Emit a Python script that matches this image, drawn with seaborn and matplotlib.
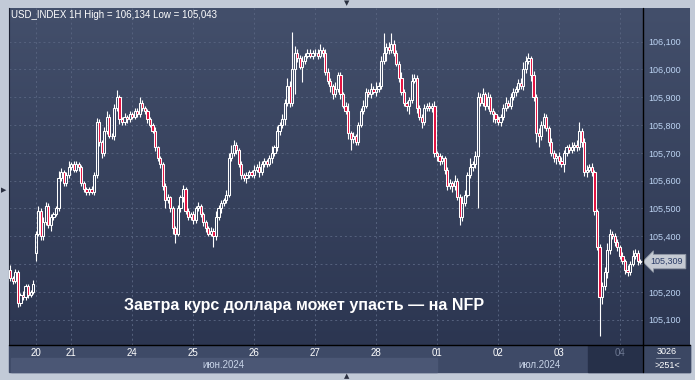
import matplotlib
matplotlib.use("Agg")
import matplotlib.pyplot as plt
import matplotlib.transforms as mtransforms
from matplotlib.colors import LinearSegmentedColormap
from matplotlib.patches import Rectangle
from matplotlib.lines import Line2D
import seaborn as sns
import numpy as np
import pandas as pd

# hourly closes, USD_INDEX 1H, 20.06 - 04.07.2024
closes = [
    105.25, 105.24, 105.27, 105.16, 105.19, 105.18, 105.22, 105.19, 105.20, 105.23,
    105.41, 105.49, 105.40, 105.45, 105.51, 105.44, 105.47, 105.48, 105.50, 105.61,
    105.63, 105.59, 105.62, 105.65, 105.66, 105.64, 105.66, 105.65, 105.59, 105.57,
    105.56, 105.57, 105.56, 105.62, 105.81, 105.74, 105.70, 105.78, 105.83, 105.76,
    105.76, 105.86, 105.90, 105.82, 105.81, 105.83, 105.82, 105.84, 105.83, 105.85,
    105.84, 105.88, 105.86, 105.85, 105.82, 105.80, 105.78, 105.72, 105.68, 105.66,
    105.58, 105.53, 105.54, 105.50, 105.43, 105.41, 105.50, 105.54, 105.57, 105.49,
    105.47, 105.48, 105.46, 105.50, 105.51, 105.48, 105.45, 105.43, 105.41, 105.42,
    105.40, 105.47, 105.50, 105.52, 105.53, 105.55, 105.68, 105.70, 105.73, 105.71,
    105.66, 105.62, 105.61, 105.62, 105.63, 105.62, 105.64, 105.65, 105.63, 105.66,
    105.67, 105.66, 105.68, 105.70, 105.72, 105.78, 105.80, 105.82, 105.88, 105.94,
    105.88, 106.00, 106.06, 106.04, 106.01, 106.03, 106.05, 106.06, 106.05, 106.06,
    106.06, 106.05, 106.07, 106.06, 105.99, 105.96, 105.94, 105.91, 105.93, 105.98,
    105.91, 105.87, 105.85, 105.77, 105.75, 105.76, 105.74, 105.80, 105.85, 105.87,
    105.92, 105.91, 105.93, 105.92, 105.93, 105.94, 106.03, 106.06, 106.08, 106.07,
    106.09, 106.06, 106.02, 105.97, 105.92, 105.88, 105.87, 105.89, 105.96, 105.97,
    105.86, 105.83, 105.81, 105.86, 105.87, 105.86, 105.87, 105.70, 105.69, 105.67,
    105.68, 105.64, 105.58, 105.59, 105.58, 105.60, 105.54, 105.47, 105.52, 105.55,
    105.62, 105.65, 105.66, 105.69, 105.90, 105.88, 105.91, 105.87, 105.90, 105.85,
    105.84, 105.82, 105.81, 105.83, 105.86, 105.88, 105.87, 105.90, 105.92, 105.93,
    105.95, 105.94, 106.00, 106.03, 106.04, 105.98, 105.90, 105.77, 105.76, 105.80,
    105.83, 105.79, 105.74, 105.70, 105.68, 105.69, 105.67, 105.66, 105.70, 105.72,
    105.71, 105.72, 105.73, 105.72, 105.78, 105.74, 105.63, 105.64, 105.65, 105.63,
    105.49, 105.36, 105.18, 105.22, 105.27, 105.35, 105.41, 105.40, 105.38, 105.36,
    105.33, 105.31, 105.28, 105.27, 105.30, 105.33, 105.34, 105.31, 105.309,
]

# wick lengths above / below the body, in 0.001
wick_up = [
    15, 8, 12, 10, 6, 14, 10, 8, 6, 12,
    8, 20, 10, 18, 12, 8, 10, 6, 10, 25,
    15, 10, 12, 20, 8, 10, 12, 6, 8, 10,
    6, 8, 10, 12, 15, 10, 8, 12, 20, 10,
    12, 15, 25, 8, 10, 12, 6, 10, 8, 10,
    12, 20, 10, 8, 6, 10, 8, 12, 6, 10,
    8, 10, 12, 6, 10, 8, 12, 10, 15, 8,
    10, 8, 12, 10, 15, 6, 8, 10, 6, 12,
    10, 20, 12, 10, 8, 15, 20, 30, 18, 10,
    8, 10, 6, 12, 10, 8, 15, 10, 20, 12,
    10, 8, 12, 25, 10, 15, 12, 20, 15, 30,
    20, 134, 25, 15, 12, 20, 10, 12, 15, 10,
    12, 15, 20, 10, 12, 15, 10, 8, 25, 12,
    10, 8, 12, 30, 10, 15, 8, 12, 10, 20,
    15, 10, 20, 12, 25, 15, 20, 70, 15, 20,
    40, 15, 10, 12, 20, 10, 8, 12, 25, 15,
    10, 12, 8, 15, 10, 12, 10, 15, 8, 10,
    12, 10, 8, 15, 10, 20, 10, 12, 25, 15,
    12, 30, 10, 15, 20, 15, 25, 10, 20, 12,
    10, 8, 12, 10, 15, 20, 10, 15, 12, 10,
    15, 20, 25, 20, 20, 10, 15, 12, 20, 15,
    12, 10, 8, 12, 10, 8, 12, 15, 10, 8,
    12, 20, 10, 15, 30, 10, 12, 15, 10, 12,
    10, 8, 12, 15, 20, 25, 15, 10, 12, 10,
    8, 12, 10, 15, 12, 20, 15, 10, 8,
]
wick_dn = [
    10, 12, 8, 15, 12, 10, 8, 12, 10, 8,
    30, 10, 12, 15, 8, 10, 20, 12, 8, 10,
    12, 10, 8, 10, 12, 8, 10, 15, 8, 12,
    10, 12, 8, 10, 12, 15, 20, 10, 12, 8,
    10, 12, 8, 15, 10, 8, 12, 10, 8, 10,
    12, 10, 8, 10, 12, 8, 10, 12, 10, 15,
    12, 30, 10, 12, 20, 35, 10, 12, 15, 10,
    12, 10, 15, 12, 8, 10, 12, 15, 10, 8,
    40, 12, 10, 15, 10, 12, 8, 10, 12, 15,
    10, 15, 12, 20, 10, 8, 12, 10, 15, 8,
    10, 12, 8, 15, 10, 12, 15, 10, 20, 12,
    15, 10, 90, 12, 10, 55, 12, 10, 8, 12,
    10, 12, 8, 15, 10, 12, 20, 15, 10, 12,
    15, 10, 12, 20, 40, 15, 12, 10, 8, 12,
    10, 8, 12, 10, 15, 12, 10, 12, 30, 15,
    12, 10, 8, 15, 12, 10, 20, 30, 12, 10,
    15, 12, 20, 10, 8, 10, 12, 15, 20, 12,
    10, 15, 12, 10, 20, 12, 10, 30, 15, 12,
    10, 12, 15, 15, 190, 12, 10, 15, 12, 10,
    30, 12, 10, 15, 12, 10, 8, 12, 10, 15,
    12, 10, 15, 12, 10, 20, 12, 30, 40, 12,
    10, 12, 15, 10, 12, 20, 10, 12, 30, 10,
    12, 10, 15, 12, 10, 20, 12, 15, 10, 12,
    12, 10, 137, 25, 12, 20, 12, 10, 15, 12,
    12, 10, 15, 12, 10, 8, 12, 15, 10,
]
first_open = 105.28
open_gaps = {10: 105.34}

day_pos = [10, 24, 48, 72, 96, 120, 144, 168, 192, 216, 240]
day_labels = ["20", "21", "24", "25", "26", "27", "28", "01", "02", "03", "04"]
price_ticks = [105.1, 105.2, 105.3, 105.4, 105.5, 105.6, 105.7, 105.8, 105.9, 106.0, 106.1]
month_labels = ["июн.2024", "июл.2024"]
month_pos = [84, 208.5]

df = pd.DataFrame({"close": closes, "up": wick_up, "dn": wick_dn})
df["x"] = np.arange(len(df))
df["open"] = df["close"].shift(1).fillna(first_open)
for k, v in open_gaps.items():
    df.loc[k, "open"] = v
df["top"] = df[["open", "close"]].max(axis=1)
df["bot"] = df[["open", "close"]].min(axis=1)
df["high"] = df["top"] + df["up"] / 1000
df["low"] = df["bot"] - df["dn"] / 1000

sns.set_style("dark")
plt.rcParams["font.family"] = ["Liberation Sans", "DejaVu Sans"]

W, H = 695, 380
fig = plt.figure(figsize=(W / 100, H / 100), dpi=100, facecolor="#c2cad7")


def fx(x):
    return x / W


def fy(y):
    return 1 - y / H


def frect(x0, y0, x1, y1, color):
    fig.patches.append(Rectangle((fx(x0), fy(y1)), fx(x1) - fx(x0), fy(y0) - fy(y1),
                                 transform=fig.transFigure, color=color, zorder=-2))


# bottom date strip
frect(9, 345, 690, 372, "#3e4a67")
frect(11, 358, 437, 372, "#4b5775")
frect(588, 345, 643, 372, "#263049")
frect(643, 345, 690, 372, "#3b4763")

# gradient background for plot + price scale
ax_bg = fig.add_axes([fx(9), fy(345), fx(690) - fx(9), fy(8) - fy(345)])
ax_bg.set_zorder(-1)
cmap = LinearSegmentedColormap.from_list("bg", ["#434f6b", "#2c3651"])
ax_bg.imshow(np.linspace(0, 1, 256).reshape(-1, 1), aspect="auto", cmap=cmap,
             extent=[0, 1, 0, 1])
ax_bg.axis("off")

ax = fig.add_axes([fx(9), fy(345), fx(643) - fx(9), fy(8) - fy(345)])
ax.set_facecolor("none")

# candles
bull = df[df["close"] >= df["open"]]
bear = df[df["close"] < df["open"]]
ax.vlines(df["x"], df["low"], df["bot"], color="white", lw=0.8, zorder=3)
ax.vlines(df["x"], df["top"], df["high"], color="white", lw=0.8, zorder=3)
ax.bar(bull["x"], bull["top"] - bull["bot"], bottom=bull["bot"], width=0.85,
       facecolor="none", edgecolor="white", linewidth=0.75, zorder=4)
ax.bar(bear["x"], bear["top"] - bear["bot"], bottom=bear["bot"], width=0.85,
       facecolor="#e3103f", edgecolor="white", linewidth=0.75, zorder=4)

ax.set_xlim(-0.5, 249.1)
ax.set_ylim(105.009, 106.221)

ax.grid(True, color="#56627e", lw=0.7, ls=(0, (2, 3)))
ax.set_xticks(day_pos, day_labels)
ax.yaxis.tick_right()
# the 105,300 label sits under the last-price tag
ylabels = [f"{p:.3f}".replace(".", ",") for p in price_ticks]
ylabels[price_ticks.index(105.3)] = ""
ax.set_yticks(price_ticks, ylabels)
ax.tick_params(axis="x", length=0, pad=2.5, labelsize=7, labelcolor="white")
ax.tick_params(axis="y", length=0, pad=4, labelsize=6.5, labelcolor="#bcd3f2")
ax.get_xticklabels()[-1].set_color("#6d7892")
for s in ["top", "right", "bottom"]:
    ax.spines[s].set_visible(False)
ax.spines["left"].set_color("#1c2233")
ax.spines["left"].set_linewidth(0.8)

xt = ax.get_xaxis_transform()
for lab, pos in zip(month_labels, month_pos):
    ax.text(pos, -0.06, lab, transform=xt, ha="center", va="center",
            fontsize=7, color="#c8d4e8", clip_on=False)

# last price tag
yt = mtransforms.blended_transform_factory(ax.transAxes, ax.transData)
ax.text(1.012, closes[-1], f"{closes[-1]:.3f}".replace(".", ","), transform=yt,
        ha="left", va="center", fontsize=6.5, color="#2a3b66", clip_on=False,
        bbox=dict(boxstyle="larrow,pad=0.3", fc="#c5cad3", ec="#8d95a3", lw=0.6))

ax.text(0.4653, 0.116, "Завтра курс доллара может упасть — на NFP",
        transform=ax.transAxes, ha="center", va="center", fontsize=11.5,
        fontweight="bold", color="white", zorder=6)

# separators
fig.add_artist(Line2D([fx(643), fx(643)], [fy(8), fy(372)], color="black", lw=1))
fig.add_artist(Line2D([fx(9), fx(690)], [fy(345), fy(345)], color="black", lw=1))
fig.add_artist(Line2D([fx(656), fx(680)], [fy(358), fy(358)], color="#8a95aa", lw=0.6))

fig.text(fx(11), fy(15), "USD_INDEX 1H High = 106,134 Low = 105,043", fontsize=7,
         color="white", va="center", ha="left")
fig.text(fx(667), fy(352), "3026", fontsize=6.5, color="white", ha="center", va="center")
fig.text(fx(667), fy(365), ">251<", fontsize=6.5, color="white", ha="center", va="center")

fig.text(fx(347), fy(3), "▼", fontsize=5, color="#2a3040", ha="center", va="center",
         family="DejaVu Sans")
fig.text(fx(347), fy(376.5), "▲", fontsize=5, color="#2a3040", ha="center", va="center",
         family="DejaVu Sans")
fig.text(fx(3.5), fy(190), "▶", fontsize=5, color="#2a3040", ha="center", va="center",
         family="DejaVu Sans")

fig.savefig("out.png", dpi=100, facecolor=fig.get_facecolor())
